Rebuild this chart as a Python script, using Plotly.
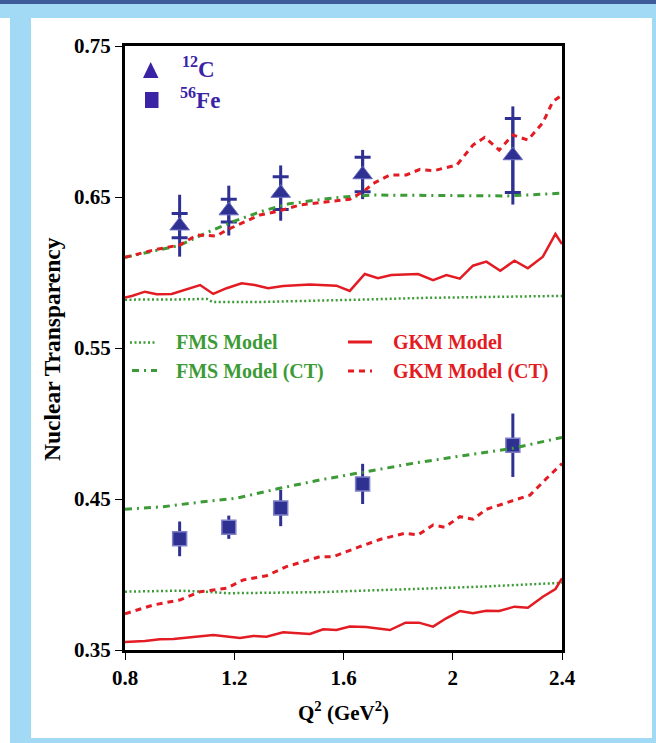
import plotly.graph_objects as go

# ---------------- data ----------------
q2_points = [1.0, 1.18, 1.37, 1.67, 2.22]

c12_T = [0.631, 0.641, 0.6526, 0.6649, 0.6775]
c12_stat = [0.008, 0.0075, 0.0108, 0.0114, 0.0245]
c12_tot = [0.0205, 0.0165, 0.0183, 0.0163, 0.0325]

fe56_T = [0.4236, 0.4313, 0.444, 0.460, 0.4856]
fe56_tot = [0.0115, 0.0077, 0.012, 0.0133, 0.021]

fms_c_x = [0.8, 0.9, 1.0, 1.1, 1.12, 1.3, 1.5, 1.7, 1.9, 2.1, 2.3, 2.4]
fms_c_y = [0.582, 0.582, 0.5822, 0.5825, 0.5805, 0.5805, 0.5812, 0.5822, 0.5832, 0.5838, 0.5843, 0.5845]

fms_ct_c_x = [0.8, 0.9, 1.0, 1.1, 1.2, 1.3, 1.4, 1.5, 1.6, 1.7, 1.8, 1.9, 2.0, 2.1, 2.2, 2.3, 2.4]
fms_ct_c_y = [0.610, 0.614, 0.618, 0.6265, 0.634, 0.6405, 0.6455, 0.648, 0.650, 0.6513, 0.6513,
              0.6512, 0.651, 0.6508, 0.6507, 0.6515, 0.6525]

gkm_c_x = [0.8, 0.825, 0.873, 0.916, 0.971, 1.02, 1.075, 1.123, 1.172, 1.227, 1.275, 1.324, 1.379,
           1.477, 1.574, 1.623, 1.678, 1.726, 1.775, 1.873, 1.928, 1.977, 2.026, 2.074, 2.123, 2.174,
           2.226, 2.275, 2.33, 2.376, 2.4]
gkm_c_y = [0.5835, 0.5844, 0.5873, 0.5856, 0.5858, 0.5884, 0.5917, 0.5858, 0.5896, 0.5929, 0.5917,
           0.5896, 0.5911, 0.592, 0.5913, 0.5878, 0.599, 0.5962, 0.5983, 0.599, 0.595, 0.5983, 0.5959,
           0.6045, 0.6072, 0.6012, 0.6078, 0.6028, 0.6105, 0.6255, 0.6189]

gkm_ct_c_x = [0.8, 0.904, 1.0, 1.062, 1.135, 1.172, 1.294, 1.355, 1.44, 1.574, 1.623, 1.672, 1.709,
              1.77, 1.83, 1.88, 1.93, 2.015, 2.074, 2.117, 2.17, 2.22, 2.275, 2.33, 2.366, 2.4]
gkm_ct_c_y = [0.610, 0.6149, 0.6182, 0.6248, 0.6242, 0.6281, 0.6381, 0.6403, 0.6447, 0.6476, 0.6485,
              0.6535, 0.659, 0.6646, 0.6646, 0.6683, 0.6674, 0.6712, 0.6844, 0.6895, 0.6811, 0.6911,
              0.6877, 0.6992, 0.7131, 0.7175]

fms_fe_x = [0.8, 1.0, 1.1, 1.18, 1.51, 1.733, 1.854, 2.1, 2.4]
fms_fe_y = [0.3886, 0.3893, 0.3885, 0.3876, 0.3883, 0.3897, 0.3904, 0.3919, 0.3945]

fms_ct_fe_x = [0.8, 0.94, 1.086, 1.208, 1.367, 1.513, 1.683, 1.854, 1.976, 2.22, 2.4]
fms_ct_fe_y = [0.4432, 0.4449, 0.4482, 0.4505, 0.4571, 0.4626, 0.4681, 0.4736, 0.477, 0.4836, 0.4908]

gkm_fe_x = [0.8, 0.825, 0.873, 0.928, 0.977, 1.123, 1.221, 1.269, 1.318, 1.379, 1.477, 1.526, 1.574,
            1.623, 1.683, 1.77, 1.827, 1.876, 1.928, 1.976, 2.026, 2.074, 2.123, 2.17, 2.226, 2.275,
            2.33, 2.376, 2.4]
gkm_fe_y = [0.3553, 0.3555, 0.356, 0.3571, 0.3573, 0.3599, 0.3579, 0.3593, 0.3588, 0.3617, 0.3606,
            0.3637, 0.3632, 0.3655, 0.3652, 0.3632, 0.3681, 0.3681, 0.3655, 0.371, 0.3758, 0.3743,
            0.376, 0.3758, 0.3787, 0.378, 0.3853, 0.3904, 0.3975]

gkm_ct_fe_x = [0.8, 0.825, 0.904, 1.0, 1.075, 1.172, 1.233, 1.318, 1.391, 1.513, 1.562, 1.659, 1.733,
               1.824, 1.873, 1.928, 1.971, 2.026, 2.074, 2.123, 2.283, 2.344, 2.4]
gkm_ct_fe_y = [0.374, 0.3754, 0.3798, 0.3831, 0.3886, 0.3909, 0.3964, 0.3992, 0.4052, 0.4118, 0.4118,
               0.4184, 0.4232, 0.4273, 0.4262, 0.4328, 0.4313, 0.4383, 0.4366, 0.4432, 0.4526, 0.4637,
               0.4735]

x_tickvals = [0.8, 1.2, 1.6, 2.0, 2.4]
x_ticktext = ["0.8", "1.2", "1.6", "2", "2.4"]
y_tickvals = [0.35, 0.45, 0.55, 0.65, 0.75]
y_ticktext = ["0.35", "0.45", "0.55", "0.65", "0.75"]

# ---------------- style ----------------
W, H = 656, 743
ML, MR, MT, MB = 125, 94, 46, 93
PW = W - ML - MR
PH = H - MT - MB

def px(x):
    return (x - ML) / PW

def py(y):
    return (H - MB - y) / PH

FONT = "Liberation Serif"
BLUE = "#2e3192"
BLUE_TXT = "#3b23a6"
GREEN = "#3c9b36"
RED = "#e31b23"
LIGHTBLUE = "#a2d9f4"
DARKBLUE = "#3e5b99"

DOT = "2px,2.5px"
DASHDOT = "7px,5px,2px,5px"
DASH = "6px,5px"

fig = go.Figure()

# data markers with error bars
fig.add_trace(go.Scatter(
    x=q2_points, y=c12_T, mode="markers",
    marker=dict(size=1, color="rgba(0,0,0,0)"),
    error_y=dict(type="data", array=c12_tot, width=0, thickness=3, color=BLUE),
    showlegend=False, hoverinfo="skip"))
fig.add_trace(go.Scatter(
    x=q2_points, y=c12_T, mode="markers",
    marker=dict(symbol="triangle-up", size=17, color=BLUE, line=dict(width=1, color="#6b6dc0")),
    error_y=dict(type="data", array=c12_stat, width=8, thickness=3, color=BLUE),
    showlegend=False))
fig.add_trace(go.Scatter(
    x=q2_points, y=fe56_T, mode="markers",
    marker=dict(symbol="square", size=14, color=BLUE, line=dict(width=1.5, color="#7f80c8")),
    error_y=dict(type="data", array=fe56_tot, width=0, thickness=3, color=BLUE),
    showlegend=False))

# model curves
def line(x, y, color, dash, width):
    fig.add_trace(go.Scatter(x=x, y=y, mode="lines",
                             line=dict(color=color, dash=dash, width=width),
                             showlegend=False, hoverinfo="skip"))

line(fms_c_x, fms_c_y, GREEN, DOT, 2.5)
line(fms_ct_c_x, fms_ct_c_y, GREEN, DASHDOT, 3)
line(gkm_c_x, gkm_c_y, RED, "solid", 2.5)
line(gkm_ct_c_x, gkm_ct_c_y, RED, DASH, 3)
line(fms_fe_x, fms_fe_y, GREEN, DOT, 2.5)
line(fms_ct_fe_x, fms_ct_fe_y, GREEN, DASHDOT, 3)
line(gkm_fe_x, gkm_fe_y, RED, "solid", 2.5)
line(gkm_ct_fe_x, gkm_ct_fe_y, RED, DASH, 3)

shapes = []
# frame decoration
def rect(x0, y0, x1, y1, color):
    shapes.append(dict(type="rect", xref="paper", yref="paper",
                       x0=px(x0), x1=px(x1), y0=py(y1), y1=py(y0),
                       fillcolor=color, line=dict(width=0), layer="below"))

rect(0, 0, W, 4, DARKBLUE)
rect(0, 4, W, 18, LIGHTBLUE)
rect(10, 18, 31, H, LIGHTBLUE)
rect(652, 18, W, H, LIGHTBLUE)
rect(31, 738, W, H, LIGHTBLUE)

# legend samples
def seg(x0, x1, y, color, dash, width):
    shapes.append(dict(type="line", xref="paper", yref="paper",
                       x0=px(x0), x1=px(x1), y0=py(y), y1=py(y),
                       line=dict(color=color, dash=dash, width=width)))

seg(130, 157, 342.5, GREEN, DOT, 2.5)
seg(132, 157, 370.5, GREEN, DASHDOT, 3)
seg(348, 372, 342, RED, "solid", 3)
seg(348, 372, 371, RED, DASH, 3)

# marker legend symbols
shapes.append(dict(type="path", xref="paper", yref="paper",
                   path="M {} {} L {} {} L {} {} Z".format(px(143), py(78), px(158.5), py(78), px(150.7), py(62)),
                   fillcolor=BLUE_TXT, line=dict(width=0)))
shapes.append(dict(type="rect", xref="paper", yref="paper",
                   x0=px(145), x1=px(158.5), y0=py(108), y1=py(92),
                   fillcolor=BLUE_TXT, line=dict(width=0)))

annotations = []
def txt(text, x, y, color, size=19.5, xanchor="left", angle=0):
    annotations.append(dict(text=text, xref="paper", yref="paper", x=px(x), y=py(y),
                            xanchor=xanchor, yanchor="middle", showarrow=False, textangle=angle,
                            font=dict(family=FONT, size=size, color=color, weight="bold")))

txt("FMS Model", 174, 342, GREEN, size=20)
txt("FMS Model (CT)", 174, 371, GREEN, size=20)
txt("GKM Model", 391, 342, RED, size=20)
txt("GKM Model (CT)", 391, 371, RED, size=20)
txt("<sup>12</sup>C", 180, 68, BLUE_TXT, size=23)
txt("<sup>56</sup>Fe", 178, 99, BLUE_TXT, size=23)
txt("Nuclear Transparency", 52, 349, "black", size=23.5, xanchor="center", angle=-90)
txt("Q<sup>2</sup> (GeV<sup>2</sup>)", 343, 711, "black", size=21, xanchor="center")

axis_common = dict(showline=True, linecolor="black", linewidth=3, mirror=True,
                   ticks="outside", ticklen=7, tickwidth=1, tickcolor="black",
                   showgrid=False, zeroline=False,
                   tickfont=dict(family=FONT, size=21, color="black", weight="bold"))

fig.update_layout(
    width=W, height=H,
    margin=dict(l=ML, r=MR, t=MT, b=MB, pad=0),
    paper_bgcolor="white", plot_bgcolor="white",
    xaxis=dict(range=[0.8, 2.4], tickvals=x_tickvals, ticktext=x_ticktext, **axis_common),
    yaxis=dict(range=[0.35, 0.75], tickvals=y_tickvals, ticktext=y_ticktext, **axis_common),
    shapes=shapes, annotations=annotations,
    showlegend=False,
)

fig.write_html("out.html")
